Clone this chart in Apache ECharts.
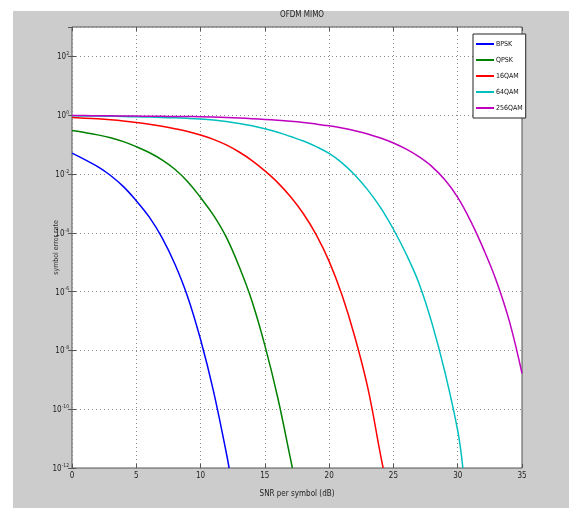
<!DOCTYPE html>
<html>
<head>
<meta charset="utf-8">
<script src="https://cdn.jsdelivr.net/npm/echarts@6/dist/echarts.min.js"></script>
<style>
  html, body { margin: 0; padding: 0; background: #fff; }
  #chart { width: 569px; height: 518px; }
</style>
</head>
<body>
<div id="chart"></div>
<script>
// values (SNR in dB, symbol error rate)
const seriesNames = ['BPSK', 'QPSK', '16QAM', '64QAM', '256QAM'];
const seriesColors = ['#0000ff', '#008000', '#ff0000', '#00bfbf', '#bf00bf'];

const snrBpsk = [0, 1, 2, 3, 4, 5, 6, 7, 8, 9, 10, 11, 12, 12.22];
const serBpsk = [5.13e-2, 3.09e-2, 1.78e-2, 8.9e-3, 3.72e-3, 1.23e-3, 3.47e-4, 6.9e-5,
    8.7e-6, 6.6e-7, 2.34e-8, 4.2e-10, 3.3e-12, 1e-12];

const snrQpsk = [0, 1, 2, 3, 4, 5, 6, 7, 8, 9, 10, 11, 12, 13, 14, 15, 16, 17, 17.14];
const serQpsk = [0.302, 0.257, 0.214, 0.170, 0.126, 0.0851, 0.0537, 0.0302, 0.0145,
    5.5e-3, 1.58e-3, 3.98e-4, 7.1e-5, 7.1e-6, 4.7e-7, 1.48e-8, 2.5e-10, 2.0e-12, 1e-12];

const snr16 = [0, 1, 2, 3, 4, 5, 6, 7, 8, 9, 10, 11, 12, 13, 14, 15, 16, 17, 18, 19,
    20, 21, 22, 23, 24, 24.2];
const ser16 = [0.832, 0.794, 0.750, 0.697, 0.635, 0.566, 0.493, 0.420, 0.349, 0.281,
    0.213, 0.151, 0.0973, 0.0560, 0.0287, 0.0128, 5.1e-3, 1.69e-3, 4.45e-4, 8.5e-5,
    1.07e-5, 7.6e-7, 2.87e-8, 5.5e-10, 2.75e-12, 1e-12];

const snr64 = [0, 1, 2, 3, 4, 5, 6, 7, 8, 9, 10, 11, 12, 13, 14, 15, 16, 17, 18, 19,
    20, 21, 22, 23, 24, 25, 26, 27, 28, 29, 30, 30.4];
const ser64 = [0.955, 0.944, 0.933, 0.923, 0.902, 0.881, 0.861, 0.838, 0.813, 0.782,
    0.741, 0.684, 0.610, 0.525, 0.437, 0.347, 0.263, 0.188, 0.132, 0.0851,
    0.0501, 0.0240, 9.3e-3, 2.88e-3, 7.2e-4, 1.32e-4, 1.86e-5, 1.86e-6, 8.3e-8, 1.86e-9,
    1.86e-11, 1e-12];

const snr256 = [0, 1, 2, 3, 4, 5, 6, 7, 8, 9, 10, 11, 12, 13, 14, 15, 16, 17, 18, 19,
    20, 21, 22, 23, 24, 25, 26, 27, 28, 29, 30, 31, 32, 33, 34, 35];
const ser256 = [0.977, 0.968, 0.959, 0.951, 0.942, 0.933, 0.925, 0.916, 0.908, 0.900,
    0.891, 0.867, 0.838, 0.804, 0.764, 0.719, 0.671, 0.618, 0.560, 0.499,
    0.435, 0.366, 0.297, 0.231, 0.167, 0.113, 0.0697, 0.0383, 0.0179, 6.35e-3,
    1.60e-3, 2.53e-4, 2.84e-5, 2.36e-6, 1.05e-7, 1.67e-9];

const snrs = [snrBpsk, snrQpsk, snr16, snr64, snr256];
const sers = [serBpsk, serQpsk, ser16, ser64, ser256];

const font = "'DejaVu Sans Condensed', 'Liberation Sans Narrow', 'Liberation Sans', sans-serif";

const chart = echarts.init(document.getElementById('chart'));

function powLabel(v) {
    const e = Math.round(Math.log10(v));
    if (e % 2 !== 0) return '';
    return '{b|10}{s|' + e + '}';
}

const gridLine = { show: true, lineStyle: { color: '#8a8a8a', width: 1, type: [1, 3] } };
const tickIn = { show: true, inside: true, length: 4, lineStyle: { color: '#555' } };

const options = {
    animation: false,
    textStyle: { fontFamily: font },
    graphic: [{
        type: 'rect',
        z: -10,
        silent: true,
        shape: { x: 13, y: 11, width: 556, height: 497 },
        style: { fill: '#cccccc' }
    }],
    title: {
        text: 'OFDM MIMO',
        left: 297,
        top: 6,
        textAlign: 'center',
        textStyle: { fontSize: 8, fontWeight: 'normal', color: '#222', fontFamily: font }
    },
    grid: {
        left: 72, right: 47, top: 27, bottom: 50,
        show: true,
        backgroundColor: '#ffffff',
        borderColor: '#555',
        borderWidth: 1
    },
    legend: {
        orient: 'vertical',
        left: 473,
        top: 34,
        icon: 'rect',
        itemWidth: 18,
        itemHeight: 2,
        itemGap: 4,
        padding: [4, 3, 4, 3],
        backgroundColor: '#ffffff',
        borderColor: '#222',
        borderWidth: 1,
        textStyle: { fontSize: 7, lineHeight: 12, color: '#111', fontFamily: font, padding: [0, 0, 0, -3] },
        data: seriesNames
    },
    xAxis: [{
        type: 'value',
        min: 0, max: 35, interval: 5,
        name: 'SNR per symbol (dB)',
        nameLocation: 'middle',
        nameGap: 22,
        nameTextStyle: { fontSize: 8, color: '#222', fontFamily: font },
        axisLine: { show: false },
        axisTick: tickIn,
        axisLabel: { fontSize: 8, color: '#222', margin: 4, fontFamily: font },
        splitLine: gridLine
    }, {
        type: 'value',
        position: 'top',
        min: 0, max: 35, interval: 5,
        axisLine: { show: false },
        axisTick: tickIn,
        axisLabel: { show: false },
        splitLine: { show: false }
    }],
    yAxis: [{
        type: 'log',
        logBase: 10,
        min: 1e-12, max: 1e3,
        interval: 2,
        name: 'symbol error rate',
        nameLocation: 'middle',
        nameGap: 12,
        nameMoveOverlap: false,
        nameTextStyle: { fontSize: 7, color: '#333', fontFamily: font },
        axisLine: { show: false },
        axisTick: tickIn,
        axisLabel: {
            margin: 3,
            showMaxLabel: false,
            formatter: powLabel,
            rich: {
                b: { fontSize: 8, color: '#222', fontFamily: font, verticalAlign: 'bottom' },
                s: { fontSize: 5, color: '#222', fontFamily: font, verticalAlign: 'bottom', padding: [0, 0, 5, 0] }
            }
        },
        splitLine: gridLine
    }, {
        type: 'log',
        logBase: 10,
        position: 'right',
        min: 1e-12, max: 1e3,
        interval: 2,
        axisLine: { show: false },
        axisTick: tickIn,
        axisLabel: { show: false },
        splitLine: { show: false }
    }],
    series: seriesNames.map((name, i) => ({
        name: name,
        type: 'line',
        smooth: 0.4,
        showSymbol: false,
        symbol: 'none',
        clip: true,
        color: seriesColors[i],
        lineStyle: { color: seriesColors[i], width: 1.5 },
        data: snrs[i].map((x, j) => [x, sers[i][j]])
    }))
};

chart.setOption(options);
</script>
</body>
</html>
